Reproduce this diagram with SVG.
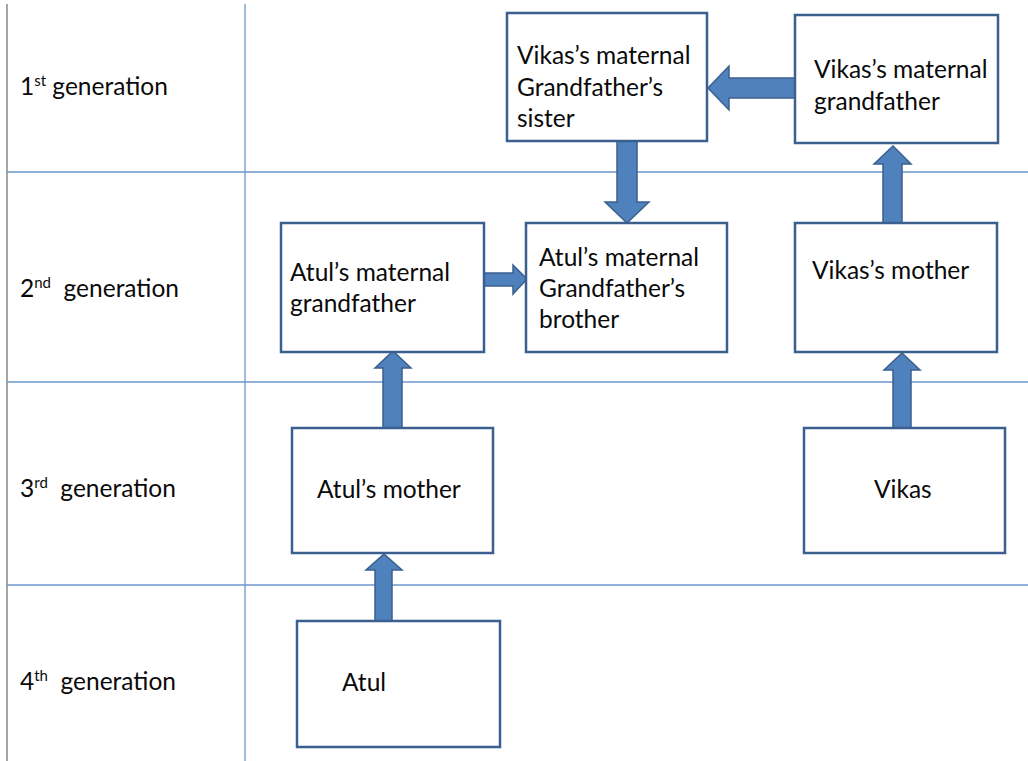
<svg xmlns="http://www.w3.org/2000/svg" width="1028" height="761" viewBox="0 0 1028 761">
<style>
.grid{stroke:#6e97cc;stroke-width:1.3;fill:none}
.border{stroke:#a6a6a6;stroke-width:2;fill:none}
.box{fill:#ffffff;stroke:#3b5f8e;stroke-width:2.5}
.arrow{fill:#4f81bd;stroke:#3b5f8e;stroke-width:1.5;stroke-linejoin:miter}
text{font-family:Lato,"Liberation Sans",sans-serif;font-size:24.5px;fill:#0a0a0a}
.sup{font-size:15px}
</style>
<rect width="1028" height="761" fill="#ffffff"/>
<g id="grid">
<line class="border" x1="7" y1="4" x2="7" y2="761"/>
<line class="grid" x1="245" y1="4" x2="245" y2="761"/>
<line class="grid" x1="7" y1="172" x2="1028" y2="172"/>
<line class="grid" x1="7" y1="382" x2="1028" y2="382"/>
<line class="grid" x1="7" y1="585" x2="1028" y2="585"/>
</g>
<g id="labels">
<text x="20" y="95">1<tspan class="sup" dy="-9">st</tspan><tspan dy="9"> generation</tspan></text>
<text x="20" y="297">2<tspan class="sup" dy="-9">nd</tspan><tspan dy="9" xml:space="preserve">  generation</tspan></text>
<text x="20" y="497">3<tspan class="sup" dy="-9">rd</tspan><tspan dy="9" xml:space="preserve">  generation</tspan></text>
<text x="20" y="690">4<tspan class="sup" dy="-9">th</tspan><tspan dy="9" xml:space="preserve">  generation</tspan></text>
</g>
<g id="connectors">
<path class="arrow" d="M795,78 L729,78 L729,66 L708,88 L729,110 L729,98 L795,98 Z"/>
<path class="arrow" d="M617,141 L617,202 L605,202 L627,223 L649,202 L637,202 L637,141 Z"/>
<path class="arrow" d="M883,223 L883,164 L874,164 L893,146 L911,164 L902,164 L902,223 Z"/>
<path class="arrow" d="M484,273 L513,273 L513,265 L527,279 L513,294 L513,286 L484,286 Z"/>
<path class="arrow" d="M383,428 L383,368 L375,368 L393,351 L411,368 L402,368 L402,428 Z"/>
<path class="arrow" d="M893,428 L893,370 L884,370 L902,353 L920,370 L911,370 L911,428 Z"/>
<path class="arrow" d="M375,621 L375,570 L366,570 L384,554 L402,570 L392,570 L392,621 Z"/>
</g>
<g id="node-vmgf-sister">
<rect class="box" x="507" y="13" width="200" height="128"/>
<text x="517" y="64">Vikas’s maternal</text>
<text x="517" y="96">Grandfather’s</text>
<text x="517" y="127">sister</text>
</g>
<g id="node-vmgf">
<rect class="box" x="795" y="15" width="203" height="128"/>
<text x="814" y="78">Vikas’s maternal</text>
<text x="814" y="110">grandfather</text>
</g>
<g id="node-amgf">
<rect class="box" x="281" y="223" width="203" height="129"/>
<text x="290" y="281">Atul’s maternal</text>
<text x="290" y="312">grandfather</text>
</g>
<g id="node-amgf-brother">
<rect class="box" x="526" y="223" width="201" height="129"/>
<text x="539" y="266">Atul’s maternal</text>
<text x="539" y="297">Grandfather’s</text>
<text x="539" y="328">brother</text>
</g>
<g id="node-vikas-mother">
<rect class="box" x="795" y="223" width="202" height="129"/>
<text x="812" y="279">Vikas’s mother</text>
</g>
<g id="node-atul-mother">
<rect class="box" x="292" y="428" width="201" height="125"/>
<text x="317" y="498">Atul’s mother</text>
</g>
<g id="node-vikas">
<rect class="box" x="804" y="428" width="201" height="125"/>
<text x="874" y="498">Vikas</text>
</g>
<g id="node-atul">
<rect class="box" x="297" y="621" width="203" height="126"/>
<text x="342" y="691">Atul</text>
</g>
</svg>
